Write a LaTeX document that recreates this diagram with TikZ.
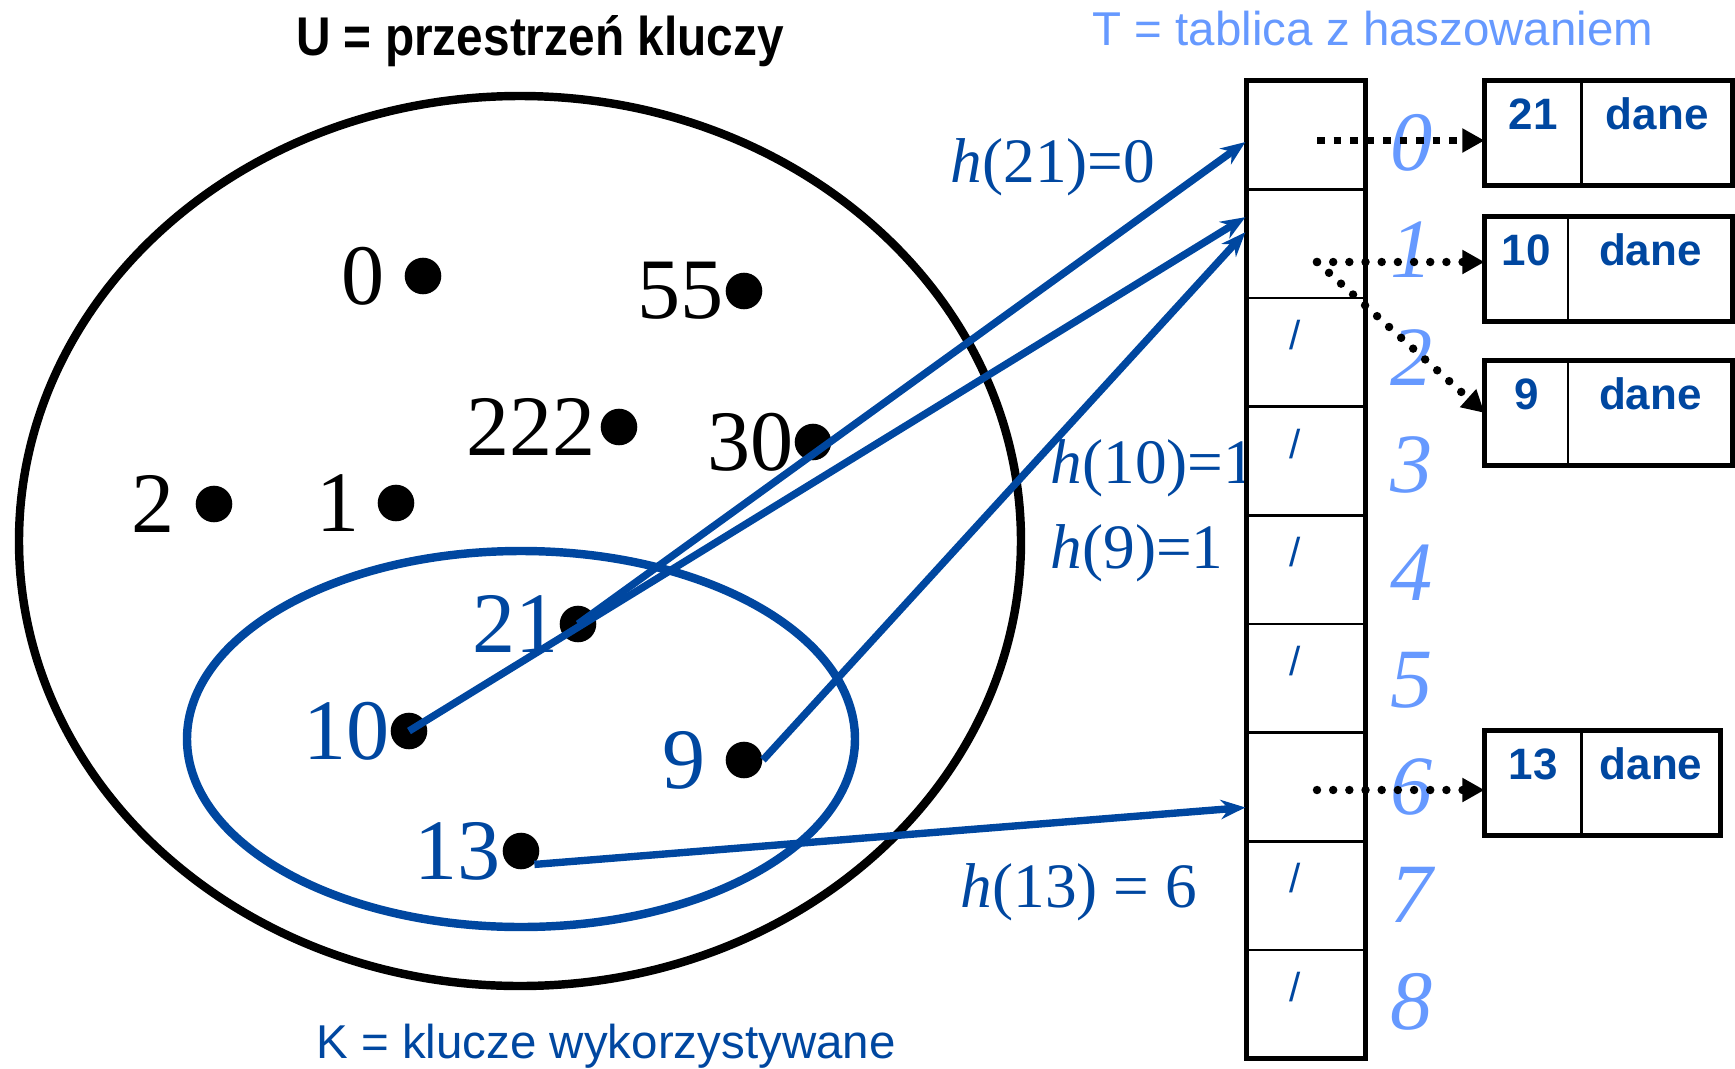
\documentclass[tikz,border=0pt]{standalone}
\usepackage{graphicx}
\usepackage{fontspec}
\setmainfont{Liberation Serif}
\setsansfont{Liberation Sans}
\usetikzlibrary{arrows.meta,calc,positioning}
\definecolor{hsblue}{HTML}{0047A0}
\definecolor{hslight}{HTML}{6699FF}
\tikzset{
  hs set/.style={line width=2.4pt},
  hs key/.style={circle, fill=black, minimum size=10.4pt, inner sep=0pt},
  hs num/.style={font=\fontsize{24.5}{28}\selectfont, inner sep=0pt},
  hs used/.style={hs num, text=hsblue},
  hs hash/.style={font=\fontsize{18}{21}\selectfont, text=hsblue, inner sep=0pt, anchor=base west},
  hs cell/.style={draw, line width=0.75pt, fill=white, minimum width=33.9pt,
    minimum height=30.9pt, inner sep=0pt, outer sep=0pt},
  hs frame/.style={draw, line width=1.5pt},
  hs slash/.style={font=\sffamily\fontsize{11.5}{13}\selectfont, text=hsblue, inner sep=0pt},
  hs index/.style={font=\itshape\fontsize{24}{28}\selectfont, text=hslight, inner sep=0pt},
  hs part/.style={draw, line width=0.75pt, text height=13.9pt, text depth=15.9pt,
    inner sep=0pt, outer sep=0pt, font=\sffamily\bfseries\fontsize{12.5}{14}\selectfont, text=hsblue},
  hs arrow/.style={-{Stealth[length=7pt,width=5.5pt]}, line width=2.1pt, draw=hsblue},
  hs link/.style={-{Triangle[length=6.3pt,width=6.5pt]}, line width=2.4pt,
    line cap=round, dash pattern=on 0pt off 4.6pt},
  hs link sq/.style={-{Triangle[length=6.3pt,width=6.5pt]}, line width=2.2pt,
    line cap=butt, dash pattern=on 2.2pt off 2.5pt},
  hs title/.style={font=\sffamily\fontsize{13.5}{16}\selectfont, inner sep=0pt, anchor=base}
}

\begin{document}
\begin{tikzpicture}[x=0.01cm, y=-0.01cm]
  \useasboundingbox (0,0) rectangle (1735,1069);

  % U and K
  \draw[hs set] (520,541) ellipse [x radius=501, y radius=445];
  \draw[hs set, draw=hsblue] (521,739) ellipse [x radius=334, y radius=188];

  \node[hs key] (k0) at (423,276) {};
  \node[hs key] (k55) at (744,291) {};
  \node[hs key] (k222) at (619,427) {};
  \node[hs key] (k30) at (813,442) {};
  \node[hs key] (k2) at (214,504) {};
  \node[hs key] (k1) at (396,503) {};
  \node[hs key] (k21) at (578,624) {};
  \node[hs key] (k10) at (409,731) {};
  \node[hs key] (k9) at (744,760) {};
  \node[hs key] (k13) at (521,851) {};

  \node[hs num, left=5.4pt of k0] (l0) {0};
  \node[hs num, left=0.3pt of k55] (l55) {55};
  \node[hs num, left=1.1pt of k222] (l222) {222};
  \node[hs num, left=0pt of k30] (l30) {30};
  \node[hs num, left=5.7pt of k2] (l2) {2};
  \node[hs num, left=4.8pt of k1] (l1) {1};
  \node[hs used, left=0pt of k21] (l21) {21};
  \node[hs used, left=0pt of k10] (l10) {10};
  \node[hs used, left=5.4pt of k9] (l9) {9};
  \node[hs used, left=0.3pt of k13] (l13) {13};

  \node[hs hash] (h21) at (950,182) {\textit{h}(21)=0};
  \node[hs hash] (h10) at (1050,483) {\textit{h}(10)=1};
  \node[hs hash] (h9) at (1050,568) {\textit{h}(9)=1};
  \node[hs hash] (h13) at (960,907) {\textit{h}(13) = 6};

  % table T
  \node[hs cell] (c0) at (1306,135) {};
  \node[hs cell, below=0pt of c0] (c1) {};
  \node[hs cell, below=0pt of c1] (c2) {};
  \node[hs cell, below=0pt of c2] (c3) {};
  \node[hs cell, below=0pt of c3] (c4) {};
  \node[hs cell, below=0pt of c4] (c5) {};
  \node[hs cell, below=0pt of c5] (c6) {};
  \node[hs cell, below=0pt of c6] (c7) {};
  \node[hs cell, below=0pt of c7] (c8) {};
  \draw[hs frame] (c0.north west) rectangle (c8.south east);

  \node[hs slash] (s2) at ($(c2.north)+(-11,37)$) {/};
  \node[hs slash] (s3) at ($(c3.north)+(-11,37)$) {/};
  \node[hs slash] (s4) at ($(c4.north)+(-11,37)$) {/};
  \node[hs slash] (s5) at ($(c5.north)+(-11,37)$) {/};
  \node[hs slash] (s7) at ($(c7.north)+(-11,37)$) {/};
  \node[hs slash] (s8) at ($(c8.north)+(-11,37)$) {/};

  \node[hs index] (i0) at (1412,143) {0};
  \node[hs index] (i1) at (1412,250) {1};
  \node[hs index] (i2) at (1412,358) {2};
  \node[hs index] (i3) at (1412,465) {3};
  \node[hs index] (i4) at (1412,573) {4};
  \node[hs index] (i5) at (1412,680) {5};
  \node[hs index] (i6) at (1412,787) {6};
  \node[hs index] (i7) at (1412,895) {7};
  \node[hs index] (i8) at (1412,1002) {8};

  % records
  \node[hs part, minimum width=27.6pt, anchor=north west] (b21k) at (1484.5,80.5) {21};
  \node[hs part, minimum width=43pt, right=0pt of b21k] (b21d) {dane};
  \draw[hs frame] (b21k.north west) rectangle (b21d.south east);
  \node[hs part, minimum width=23.75pt, anchor=north west] (b10k) at (1484.5,216.5) {10};
  \node[hs part, minimum width=46.8pt, right=0pt of b10k] (b10d) {dane};
  \draw[hs frame] (b10k.north west) rectangle (b10d.south east);
  \node[hs part, minimum width=23.75pt, anchor=north west] (b9k) at (1484.5,360.5) {9};
  \node[hs part, minimum width=46.8pt, right=0pt of b9k] (b9d) {dane};
  \draw[hs frame] (b9k.north west) rectangle (b9d.south east);
  \node[hs part, minimum width=27.6pt, anchor=north west] (b13k) at (1484.5,730.5) {13};
  \node[hs part, minimum width=39.5pt, right=0pt of b13k] (b13d) {dane\hspace{7.4pt}};
  \draw[hs frame] (b13k.north west) rectangle (b13d.south east);

  \coordinate (p0) at (1317,140.5);
  \coordinate (p1) at (1317,262);
  \coordinate (p6) at (1317,790);
  \draw[hs link sq] (p0) -- (p0 -| b21k.west);
  \draw[hs link] (p1) -- (p1 -| b10k.west);
  \draw[hs link] (p1) -- (b9k.west);
  \draw[hs link] (p6) -- (p6 -| b13k.west);

  % hashing
  \draw[hs arrow] (k21.center) -- ($(c0.west)+(-1,7)$);
  \draw[hs arrow] (k10.center) -- ($(c1.west)+(-1,-26.5)$);
  \draw[hs arrow] (k9.east) -- ($(c1.west)+(-1,-11.5)$);
  \draw[hs arrow] (k13.south east) -- ($(c6.west)+(-1,20.5)$);

  \node[hs title, font=\sffamily\bfseries\fontsize{13.6}{16}\selectfont] (tU) at (540,55)
    {\scalebox{1}[1.14]{U = przestrzeń kluczy}};
  \node[hs title, text=hslight] (tT) at (1373,45) {T = tablica z haszowaniem};
  \node[hs title, text=hsblue] (tK) at (606,1058) {K = klucze wykorzystywane};
\end{tikzpicture}
\end{document}
